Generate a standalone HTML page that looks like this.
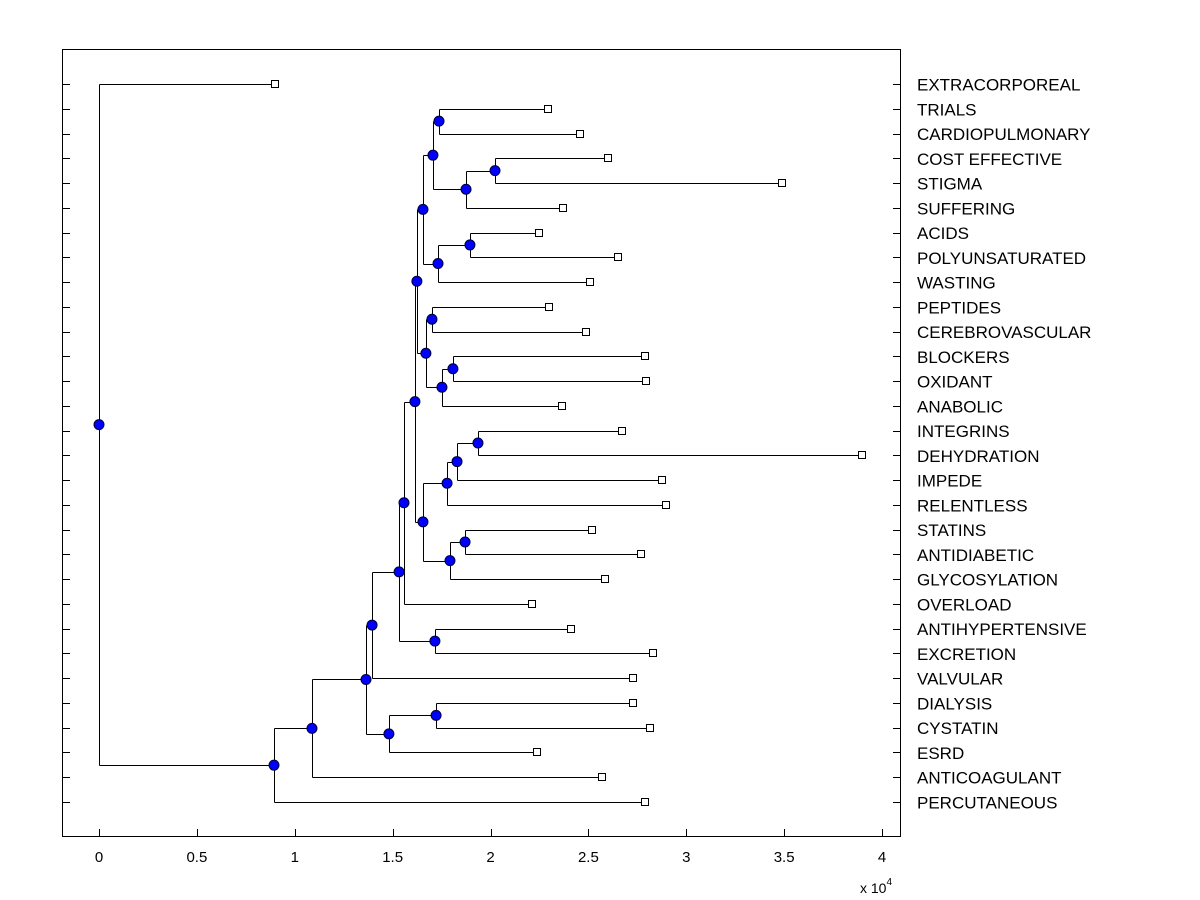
<!DOCTYPE html>
<html><head><meta charset="utf-8"><style>
html,body{margin:0;padding:0;background:#fff;}
svg{display:block;font-family:"Liberation Sans",Arial,sans-serif;}
</style></head><body>
<svg id="chart" width="1200" height="900" viewBox="0 0 1200 900" xmlns="http://www.w3.org/2000/svg">
<rect x="0" y="0" width="1200" height="900" fill="#fff"/>
<rect x="62.5" y="49.5" width="838" height="787" fill="#fff" stroke="#000" stroke-width="1"/>
<g id="ticks"></g>
<g id="tree"></g>
<g id="labels"></g>
<text x="860" y="893" font-size="14">x 10<tspan dy="-8" font-size="10">4</tspan></text>
</svg>
<script>
const labels = ["EXTRACORPOREAL","TRIALS","CARDIOPULMONARY","COST EFFECTIVE","STIGMA","SUFFERING","ACIDS","POLYUNSATURATED","WASTING","PEPTIDES","CEREBROVASCULAR","BLOCKERS","OXIDANT","ANABOLIC","INTEGRINS","DEHYDRATION","IMPEDE","RELENTLESS","STATINS","ANTIDIABETIC","GLYCOSYLATION","OVERLOAD","ANTIHYPERTENSIVE","EXCRETION","VALVULAR","DIALYSIS","CYSTATIN","ESRD","ANTICOAGULANT","PERCUTANEOUS"];
const leafValues = [0.899,2.294,2.458,2.60,3.49,2.37,2.25,2.65,2.51,2.30,2.49,2.79,2.795,2.366,2.67,3.90,2.877,2.897,2.52,2.77,2.585,2.21,2.41,2.83,2.73,2.73,2.815,2.24,2.57,2.79];
const mergeLeft =  [3,30,1,32,6,34,33,9,11,38,37,36,14,42,43,18,45,44,41,48,22,49,51,25,53,52,55,56,0];
const mergeRight = [4,5,2,31,7,8,35,10,12,13,39,40,15,16,17,19,20,46,47,21,23,50,24,26,27,54,28,29,57];
const mergeHeights = [2.023,1.875,1.737,1.706,1.895,1.732,1.655,1.701,1.808,1.752,1.670,1.624,1.936,1.829,1.778,1.870,1.793,1.655,1.614,1.558,1.716,1.533,1.395,1.722,1.481,1.364,1.088,0.894,0];
const xTicks = [0,0.5,1,1.5,2,2.5,3,3.5,4];

const NS = "http://www.w3.org/2000/svg";
function xs(v){ return 99 + v*195.75; }
function ys(i){ return 84 + i*(802-84)/29; }
function mk(tag, attrs, parent){
  const e = document.createElementNS(NS, tag);
  for (const k in attrs) e.setAttribute(k, attrs[k]);
  parent.appendChild(e); return e;
}
const ticksG = document.getElementById('ticks');
const treeG = document.getElementById('tree');
const labG = document.getElementById('labels');

xTicks.forEach(t=>{
  const x = Math.round(xs(t))+0.5;
  const l = mk('line',{x1:x,x2:x,y1:837,y2:829,stroke:'#000'},ticksG);
  
  
  const tx = mk('text',{x:xs(t),y:862,'font-size':15,'text-anchor':'middle'},ticksG);
  
  
  tx.textContent = String(t);
});

labels.forEach((lab,i)=>{
  const y = Math.round(ys(i))+0.5;
  const a = mk('line',{x1:62,x2:70,y1:y,y2:y,stroke:'#000'},ticksG);
  
  
  const b = mk('line',{x1:893,x2:901,y1:y,y2:y,stroke:'#000'},ticksG);
  
  
  const t = mk('text',{x:917,y:ys(i)+6.5,'font-size':17},labG);
  
  
  t.textContent = lab;
});

const nodeX = leafValues.map(v=>xs(v));
const nodeY = labels.map((_,i)=>ys(i));
const n = labels.length;
mergeHeights.forEach((h,k)=>{
  const a = mergeLeft[k], b = mergeRight[k];
  nodeX[n+k] = xs(h);
  nodeY[n+k] = (nodeY[a]+nodeY[b])/2;
});
const lineG = mk('g',{},treeG);
const markG = mk('g',{},treeG);
mergeHeights.forEach((h,k)=>{
  const a = mergeLeft[k], b = mergeRight[k];
  const x = Math.round(nodeX[n+k])+0.5;
  const v = mk('line',{x1:x,x2:x,y1:Math.round(nodeY[a])+0.5,y2:Math.round(nodeY[b])+0.5,stroke:'#000'},lineG);
  
  
  [a,b].forEach(c=>{
    const y = Math.round(nodeY[c])+0.5;
    const hl = mk('line',{x1:x,x2:Math.round(nodeX[c])+0.5,y1:y,y2:y,stroke:'#000'},lineG);
    
    
  });
  const c = mk('circle',{cx:nodeX[n+k],cy:nodeY[n+k],r:5,fill:'#0000ff',stroke:'#000033','stroke-width':1},markG);
  
  
});
leafValues.forEach((v,i)=>{
  const r = mk('rect',{x:Math.round(xs(v))-3.5,y:Math.round(ys(i))-3.5,width:7,height:7,fill:'#fff',stroke:'#000'},markG);
  
  
});
</script>
</body></html>
